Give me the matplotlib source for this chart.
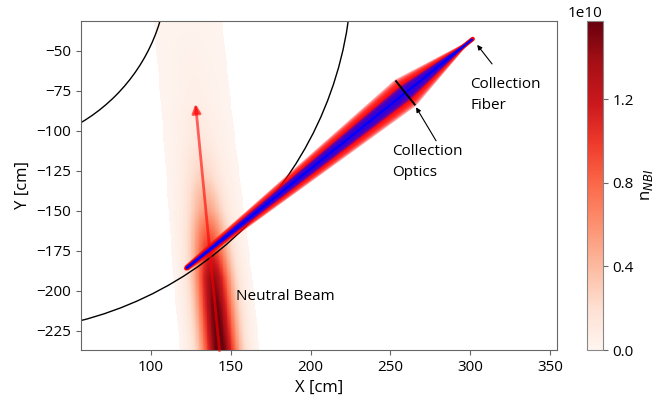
import numpy as np
import matplotlib
matplotlib.use('Agg')
import matplotlib.pyplot as plt
from matplotlib.patches import Circle, Polygon

plt.rcParams['font.family'] = ['Open Sans', 'DejaVu Sans']

# ---- axes ----
x_lim = (56.5, 354.3)
y_lim = (-237.0, -31.3)
x_ticks = [100, 150, 200, 250, 300, 350]
y_ticks = [-225, -200, -175, -150, -125, -100, -75, -50]
cbar_ticks = [0.0, 0.4e10, 0.8e10, 1.2e10]
n_max = 1.575e10

# ---- circles (vessel / plasma boundaries, centred at origin) ----
circle_radii = [110.5, 225.8]

# ---- neutral beam ----
beam_start = (143.1, -237.5)
beam_tip = (128.1, -83.3)
beam_y = [-238, -210, -192, -171, -150, -129, -108, -80, -31]
beam_core = [1.6e10, 1.52e10, 1.4e10, 0.95e10, 0.5e10, 0.25e10, 0.11e10, 0.03e10, 0.0]
beam_halo = [0.045e10, 0.04e10, 0.036e10, 0.032e10, 0.03e10, 0.027e10, 0.025e10, 0.022e10, 0.02e10]
core_sigma = 7.5
halo_halfwidth = 22.0

# ---- sight line ----
fiber = (301.4, -42.7)
view_end = (122.3, -186.0)
lens_t = 0.235
lens_half = 9.3
cone_t = [0.0, 0.235, 1.0]
cone_hw = [0.0, 10.5, 1.9]
blue_ratio = 0.5

fig = plt.figure(figsize=(6.56, 4.01), dpi=100)
ax = fig.add_axes([81 / 656, 51 / 401, 476.3 / 656, 329.3 / 401])

# density field
xs = np.arange(55.0, 356.0, 0.5)
ys = np.arange(-238.0, -30.0, 0.5)
X, Y = np.meshgrid(xs, ys)
slope = (beam_tip[0] - beam_start[0]) / (beam_tip[1] - beam_start[1])
xc = beam_start[0] + (Y - beam_start[1]) * slope
d = X - xc
core = np.interp(Y, beam_y, beam_core)
halo = np.interp(Y, beam_y, beam_halo)
n = core * np.exp(-d ** 2 / (2 * core_sigma ** 2)) + halo * np.exp(-(d / halo_halfwidth) ** 8)
n = np.ma.masked_less(n, 0.009e10)
im = ax.imshow(n, extent=(xs[0], xs[-1], ys[0], ys[-1]), origin='lower', cmap='Reds',
               vmin=0, vmax=n_max, aspect='auto', interpolation='nearest', zorder=0)

for r in circle_radii:
    ax.add_patch(Circle((0, 0), r, fill=False, color='black', lw=1.0, zorder=2))

# beam arrow
ax.annotate('', xy=beam_tip, xytext=beam_start,
            arrowprops=dict(arrowstyle='-|>', color=(1, 0, 0, 0.6), lw=2.0,
                            mutation_scale=13, shrinkA=0, shrinkB=0), zorder=3)

# sight line cone
f = np.array(fiber)
e = np.array(view_end)
dvec = (e - f) / np.linalg.norm(e - f)
perp = np.array([dvec[1], -dvec[0]])
pts = [f + t * (e - f) for t in cone_t]


def cone_poly(scale):
    left = [p + perp * hw * scale for p, hw in zip(pts, cone_hw)]
    right = [p - perp * hw * scale for p, hw in zip(pts, cone_hw)]
    return np.array(left + right[::-1])


for s in np.linspace(0.55, 1.0, 7):
    ax.add_patch(Polygon(cone_poly(s), closed=True, facecolor='red', edgecolor='none',
                         alpha=0.35, zorder=4))
ax.plot([f[0], e[0]], [f[1], e[1]], color='red', lw=3.2, solid_capstyle='round', zorder=4.5)
for s in np.linspace(0.5, 1.0, 5):
    ax.add_patch(Polygon(cone_poly(blue_ratio * s), closed=True, facecolor=(0.15, 0.0, 0.9),
                         edgecolor='none', alpha=0.4, zorder=5))
ax.plot([f[0], e[0]], [f[1], e[1]], color='blue', lw=1.6, solid_capstyle='butt', zorder=6)

lc = f + lens_t * (e - f)
l1 = lc + perp * lens_half
l2 = lc - perp * lens_half
ax.plot([l1[0], l2[0]], [l1[1], l2[1]], color='black', lw=1.4, zorder=7)

# annotations
ax.text(153.1, -203.5, 'Neutral Beam', ha='left', va='center', fontsize=11, zorder=8)
ax.text(251.0, -119.5, 'Collection\nOptics', ha='left', va='center', fontsize=11,
        linespacing=1.55, zorder=8)
ax.text(299.8, -77.5, 'Collection\nFiber', ha='left', va='center', fontsize=11,
        linespacing=1.55, zorder=8)
arrow_kw = dict(arrowstyle='-|>', color='black', lw=0.8, mutation_scale=7, shrinkA=0, shrinkB=0)
ax.annotate('', xy=(266.0, -85.4), xytext=(278.5, -106.3), arrowprops=arrow_kw, zorder=8)
ax.annotate('', xy=(304.2, -46.4), xytext=(313.5, -58.3), arrowprops=arrow_kw, zorder=8)

ax.set_xlim(*x_lim)
ax.set_ylim(*y_lim)
ax.set_xticks(x_ticks)
ax.set_yticks(y_ticks)
ax.tick_params(labelsize=11, color='#666666')
for s in ax.spines.values():
    s.set_edgecolor('#666666')
ax.set_xlabel('X [cm]', fontsize=12)
ax.set_ylabel('Y [cm]', fontsize=12)

cax = fig.add_axes([586.7 / 656, 51 / 401, 16 / 656, 329.3 / 401])
cb = fig.colorbar(im, cax=cax, ticks=cbar_ticks)
cb.ax.tick_params(labelsize=11, color='#666666')
cb.outline.set_edgecolor('#888888')
off = cb.ax.yaxis.get_offset_text()
off.set_fontsize(11)
off.set_horizontalalignment('right')
cb.set_label('n$_{NBI}$', fontsize=12)

fig.savefig('out.png', dpi=100)
